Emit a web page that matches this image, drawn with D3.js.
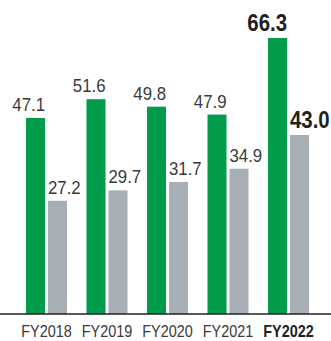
<!DOCTYPE html>
<html>
<head>
<meta charset="utf-8">
<script src="https://cdn.jsdelivr.net/npm/d3@7/dist/d3.min.js"></script>
<style>
  html, body { margin: 0; padding: 0; background: #fff; }
  svg { display: block; }
  text { font-family: "Liberation Sans", Arial, sans-serif; }
</style>
</head>
<body>
<svg id="chart" width="331" height="341"></svg>
<script>
// Fiscal years and the two series plotted for each
const years = ["FY2018", "FY2019", "FY2020", "FY2021", "FY2022"];
const primaryValues = [47.1, 51.6, 49.8, 47.9, 66.3];
const secondaryValues = [27.2, 29.7, 31.7, 34.9, 43.0];
const highlightYear = "FY2022";

const W = 331, H = 341;
const baseY = 314, topY = 38;

const svg = d3.select("#chart");

const x0 = d3.scaleBand()
  .domain(years)
  .range([6.5, 328.5])
  .paddingInner(0.322)
  .paddingOuter(0.322);

const x1 = d3.scaleBand()
  .domain(["primary", "secondary"])
  .range([0, x0.bandwidth()])
  .paddingInner(3 / 22);

const y = d3.scaleLinear()
  .domain([0, d3.max(primaryValues)])
  .range([baseY, topY]);

const rows = years.map((yr, i) => ({
  year: yr,
  primary: primaryValues[i],
  secondary: secondaryValues[i],
  hi: yr === highlightYear
}));

const colors = { primary: "#009b4b", secondary: "#a7aeb5" };

const groups = svg.selectAll("g.year")
  .data(rows)
  .join("g")
  .attr("class", "year")
  .attr("transform", d => `translate(${x0(d.year)},0)`);

["primary", "secondary"].forEach(key => {
  groups.append("rect")
    .attr("x", x1(key))
    .attr("y", d => y(d[key]))
    .attr("width", x1.bandwidth())
    .attr("height", d => baseY - y(d[key]))
    .attr("fill", colors[key]);
});

// value labels: primary right-aligned to its bar, secondary left-aligned
function valueLabel(key) {
  groups.append("text")
    .attr("transform", d => {
      const bx = key === "primary" ? x1(key) + x1.bandwidth() : x1(key);
      const sx = d.hi ? 0.85 : 0.95;
      return `translate(${bx},${y(d[key]) - 7}) scale(${sx},1)`;
    })
    .attr("text-anchor", key === "primary" ? "end" : "start")
    .attr("font-size", d => d.hi ? 24 : 17.7)
    .attr("font-weight", d => d.hi ? "bold" : "normal")
    .attr("fill", d => d.hi ? "#231f20" : "#3a3a3a")
    .text(d => d3.format(".1f")(d[key]));
}
valueLabel("primary");
valueLabel("secondary");

// baseline
svg.append("line")
  .attr("x1", 0).attr("x2", W)
  .attr("y1", baseY).attr("y2", baseY)
  .attr("stroke", "#231f20")
  .attr("stroke-width", 1.5);

// category labels
const xAxis = d3.axisBottom(x0).tickSize(0).tickPadding(0);
const axisG = svg.append("g")
  .attr("transform", `translate(0,${baseY})`)
  .call(xAxis);
axisG.select(".domain").remove();
axisG.selectAll(".tick text")
  .attr("y", 0)
  .attr("dy", 0)
  .attr("transform", "translate(0,23.3) scale(0.83,1)")
  .attr("font-family", "Liberation Sans, Arial, sans-serif")
  .attr("font-size", 17.4)
  .attr("font-weight", d => d === highlightYear ? "bold" : "normal")
  .attr("fill", d => d === highlightYear ? "#231f20" : "#3a3a3a");
</script>
</body>
</html>
